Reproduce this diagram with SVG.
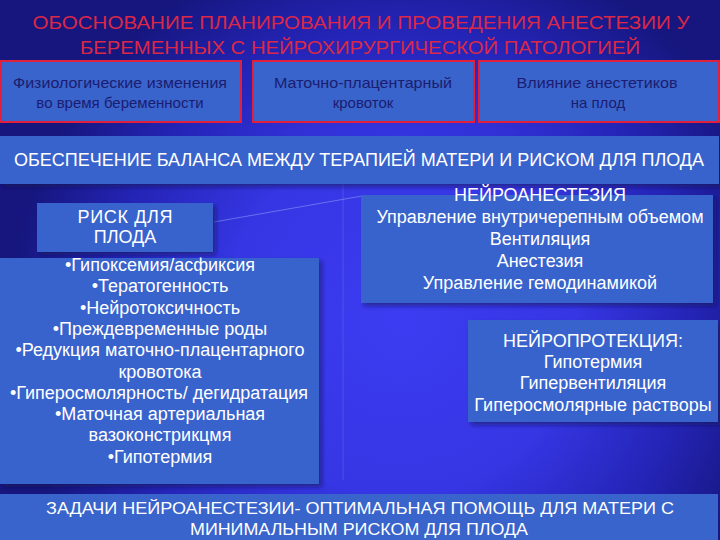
<svg xmlns="http://www.w3.org/2000/svg" width="720" height="540" viewBox="0 0 720 540">
<defs>
<radialGradient id="bg" gradientUnits="userSpaceOnUse" cx="400" cy="320" r="390">
<stop offset="0" stop-color="#3c3cf2"/>
<stop offset="0.45" stop-color="#3636e4"/>
<stop offset="0.75" stop-color="#2424b6"/>
<stop offset="1" stop-color="#16167e"/>
</radialGradient>
<filter id="sh" x="-5%" y="-10%" width="115%" height="130%">
<feDropShadow dx="3" dy="3" stdDeviation="2" flood-color="#0a0a50" flood-opacity="0.55"/>
</filter>
</defs>
<style>
.box{fill:#3864cc}
.top{fill:#3864cc;stroke:#e0203c;stroke-width:2}
text{font-family:"Liberation Sans",Arial,sans-serif;text-anchor:middle}
.w{fill:#ffffff;font-size:18px}
.d{fill:#1c1c70;font-size:15px}
.t{fill:#dc2846;font-size:19px}
.b{fill:#ffffff;font-size:18px}
</style>
<rect width="720" height="540" fill="url(#bg)"/>
<line x1="343" y1="184" x2="343" y2="480" stroke="#6a6af8" stroke-opacity="0.5" stroke-width="1"/>

<g id="title">
<text class="t" x="361" y="29" textLength="657" lengthAdjust="spacingAndGlyphs">ОБОСНОВАНИЕ ПЛАНИРОВАНИЯ И ПРОВЕДЕНИЯ АНЕСТЕЗИИ У</text>
<text class="t" x="360" y="54" textLength="560" lengthAdjust="spacingAndGlyphs">БЕРЕМЕННЫХ С НЕЙРОХИРУРГИЧЕСКОЙ ПАТОЛОГИЕЙ</text>
</g>

<g id="physiology">
<rect class="top" x="1" y="61" width="240" height="61"/>
<text class="d" x="120" y="88" textLength="214" lengthAdjust="spacingAndGlyphs">Физиологические изменения</text>
<text class="d" x="120" y="108">во время беременности</text>
</g>
<g id="uteroplacental">
<rect class="top" x="253" y="61" width="221" height="61"/>
<text class="d" x="363" y="88" textLength="178" lengthAdjust="spacingAndGlyphs">Маточно-плацентарный</text>
<text class="d" x="363" y="108">кровоток</text>
</g>
<g id="anesthetics">
<rect class="top" x="479" y="61" width="240" height="61"/>
<text class="d" x="597" y="88" textLength="161" lengthAdjust="spacingAndGlyphs">Влияние анестетиков</text>
<text class="d" x="598" y="108">на плод</text>
</g>

<g id="balance">
<rect class="box" x="0" y="136" width="719" height="48" filter="url(#sh)"/>
<text class="b" x="359" y="166" textLength="690" lengthAdjust="spacingAndGlyphs">ОБЕСПЕЧЕНИЕ БАЛАНСА МЕЖДУ ТЕРАПИЕЙ МАТЕРИ И РИСКОМ ДЛЯ ПЛОДА</text>
</g>

<g id="connectors">
<line x1="214" y1="222" x2="362" y2="196" stroke="#8ea4f4" stroke-opacity="0.55" stroke-width="1"/>
</g>

<g id="risk">
<rect class="box" x="37" y="203" width="176" height="49" filter="url(#sh)"/>
<text class="w" x="125" y="223" textLength="95" lengthAdjust="spacing">РИСК ДЛЯ</text>
<text class="w" x="125" y="243">ПЛОДА</text>
</g>

<g id="risk-list">
<rect class="box" x="0" y="258" width="319" height="226" filter="url(#sh)"/>
<text class="w" x="160" y="271">•Гипоксемия/асфиксия</text>
<text class="w" x="160" y="292.3">•Тератогенность</text>
<text class="w" x="160" y="313.6">•Нейротоксичность</text>
<text class="w" x="160" y="334.9">•Преждевременные роды</text>
<text class="w" x="160" y="356.2">•Редукция маточно-плацентарного</text>
<text class="w" x="160" y="377.5">кровотока</text>
<text class="w" x="159" y="398.8">•Гиперосмолярность/ дегидратация</text>
<text class="w" x="160" y="420.1">•Маточная артериальная</text>
<text class="w" x="160" y="441.4">вазоконстрикцмя</text>
<text class="w" x="160" y="462.7">•Гипотермия</text>
</g>

<g id="neuroanesthesia">
<rect class="box" x="361" y="195" width="352" height="108" filter="url(#sh)"/>
<text class="w" x="540" y="200.5">НЕЙРОАНЕСТЕЗИЯ</text>
<text class="w" x="540" y="222.5">Управление внутричерепным объемом</text>
<text class="w" x="540" y="244.5">Вентиляция</text>
<text class="w" x="540" y="266.5">Анестезия</text>
<text class="w" x="540" y="288.5">Управление гемодинамикой</text>
</g>

<g id="neuroprotection">
<rect class="box" x="468" y="320" width="250" height="102" filter="url(#sh)"/>
<text class="w" x="593" y="346.5">НЕЙРОПРОТЕКЦИЯ:</text>
<text class="w" x="593" y="367.5">Гипотермия</text>
<text class="w" x="593" y="389">Гипервентиляция</text>
<text class="w" x="593" y="410.5">Гиперосмолярные растворы</text>
</g>

<g id="goal">
<rect class="box" x="0" y="494" width="718" height="46"/>
<text class="w" x="360" y="514" textLength="628" lengthAdjust="spacingAndGlyphs" style="font-size:17px">ЗАДАЧИ НЕЙРОАНЕСТЕЗИИ- ОПТИМАЛЬНАЯ ПОМОЩЬ ДЛЯ МАТЕРИ С</text>
<text class="w" x="359" y="535" textLength="338" lengthAdjust="spacingAndGlyphs" style="font-size:17px">МИНИМАЛЬНЫМ РИСКОМ ДЛЯ ПЛОДА</text>
</g>
</svg>
